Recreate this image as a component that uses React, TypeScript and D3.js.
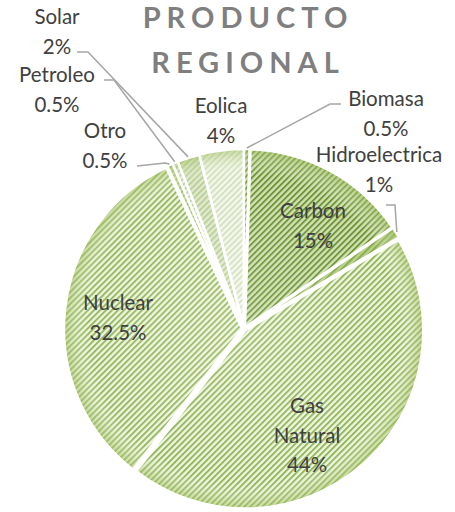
import React, { useEffect, useRef } from 'react';
import * as d3 from 'd3';

const categories = ['Biomasa', 'Carbon', 'Hidroelectrica', 'Gas Natural', 'Nuclear', 'Otro', 'Petroleo', 'Solar', 'Eolica'];
const values = [0.5, 15, 1, 44, 32.5, 0.5, 0.5, 2, 4];
const titleLines = ['PRODUCTO', 'REGIONAL'];

// stripe colour / background colour for each slice
const stripeColors = ['#6f9a2e', '#6f9630', '#86ab47', '#8fb550', '#93b855', '#9fc064', '#bcd19a', '#b9cf93', '#d2e0bc'];
const backColors = ['#c9dba8', '#d3e1bb', '#b8cf8c', '#eef4e4', '#eef4e4', '#c9dca6', '#eef3e6', '#dfe9cf', '#f3f7ed'];

// label anchor (centre of the text block, first baseline) and elbow of leader line
const labelLayout: { x: number; y: number; elbow?: [number, number][] }[] = [
  { x: 386, y: 106, elbow: [[341, 104], [330, 104]] },
  { x: 313, y: 218 },
  { x: 379, y: 162, elbow: [[386, 205], [395, 205]] },
  { x: 307, y: 413 },
  { x: 118, y: 310 },
  { x: 105, y: 138, elbow: [[137, 166], [165, 163]] },
  { x: 57, y: 82, elbow: [[104, 80], [114, 80]] },
  { x: 57, y: 24, elbow: [[77, 52], [88, 52]] },
  { x: 221, y: 113 },
];

const W = 455;
const H = 512;

const App: React.FC = () => {
  const ref = useRef<SVGSVGElement>(null);

  useEffect(() => {
    const svg = d3.select(ref.current);
    svg.selectAll('*').remove();

    const cx = 244;
    const cy = 329;
    const radius = 178;
    const font = 'Lato, "Open Sans", sans-serif';

    const defs = svg.append('defs');
    categories.forEach((_, i) => {
      const p = defs.append('pattern')
        .attr('id', 'pat-' + i)
        .attr('patternUnits', 'userSpaceOnUse')
        .attr('width', 4.24)
        .attr('height', 4.24)
        .attr('patternTransform', 'rotate(45)');
      p.append('rect').attr('width', 4.24).attr('height', 4.24).attr('fill', backColors[i]);
      p.append('rect').attr('width', 1.9).attr('height', 4.24).attr('fill', stripeColors[i]);
    });

    // darker soft rim, gradient in the slice's own coordinates (centre at 0,0)
    const grad = defs.append('radialGradient')
      .attr('id', 'edge')
      .attr('gradientUnits', 'userSpaceOnUse')
      .attr('cx', 0).attr('cy', 0).attr('r', radius);
    grad.append('stop').attr('offset', 0).attr('stop-color', '#ffffff').attr('stop-opacity', 0.15);
    grad.append('stop').attr('offset', 0.86).attr('stop-color', '#ffffff').attr('stop-opacity', 0);
    grad.append('stop').attr('offset', 1).attr('stop-color', '#9bbb59').attr('stop-opacity', 0.55);

    const pie = d3.pie<number>().sort(null).value(d => d);
    const arcs = pie(values);
    const arc = d3.arc<d3.PieArcDatum<number>>().innerRadius(0).outerRadius(radius);

    const g = svg.append('g').attr('transform', `translate(${cx},${cy})`);
    const explode = 2;

    const slices = g.selectAll('g.slice')
      .data(arcs)
      .enter()
      .append('g')
      .attr('transform', d => {
        const a = (d.startAngle + d.endAngle) / 2;
        return `translate(${Math.sin(a) * explode},${-Math.cos(a) * explode})`;
      });

    slices.append('path')
      .attr('d', arc)
      .attr('fill', (_, i) => `url(#pat-${i})`);
    slices.append('path')
      .attr('d', arc)
      .attr('fill', 'url(#edge)')
      .attr('stroke', '#ffffff')
      .attr('stroke-width', 2.5)
      .attr('stroke-linejoin', 'round');

    // leader lines
    arcs.forEach((d, i) => {
      const lay = labelLayout[i];
      if (!lay.elbow) return;
      const a = (d.startAngle + d.endAngle) / 2;
      const px = cx + Math.sin(a) * (radius + 3);
      const py = cy - Math.cos(a) * (radius + 3);
      const pts: [number, number][] = [...lay.elbow, [px, py]];
      svg.append('path')
        .attr('d', d3.line()(pts))
        .attr('fill', 'none')
        .attr('stroke', '#a6a6a6')
        .attr('stroke-width', 1.5);
    });

    // labels
    arcs.forEach((d, i) => {
      const lay = labelLayout[i];
      const name = categories[i];
      const lines = name === 'Gas Natural' ? ['Gas', 'Natural'] : [name];
      lines.push(d3.format('~')(values[i]) + '%');
      const t = svg.append('text')
        .attr('text-anchor', 'middle')
        .attr('font-family', font)
        .attr('font-size', 20.5)
        .attr('fill', '#404040');
      lines.forEach((ln, k) => {
        t.append('tspan').attr('x', lay.x).attr('y', lay.y + k * 29.5).text(ln);
      });
    });

    // title
    const ls = 6;
    titleLines.forEach((ln, k) => {
      svg.append('text')
        .attr('x', 245 + ls / 2)
        .attr('y', 28 + k * 45)
        .attr('text-anchor', 'middle')
        .attr('font-family', font)
        .attr('font-weight', 'bold')
        .attr('font-size', 29)
        .attr('letter-spacing', ls)
        .attr('fill', '#7f7f7f')
        .text(ln);
    });
  }, []);

  return (
    <div style={{ position: 'absolute', left: 0, top: 0 }}>
      <svg ref={ref} width={W} height={H} style={{ display: 'block', background: '#fff' }} />
    </div>
  );
};

export default App;
